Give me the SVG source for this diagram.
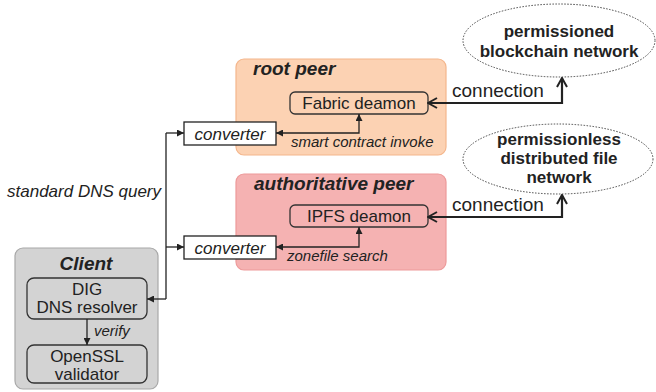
<svg xmlns="http://www.w3.org/2000/svg" width="656" height="392" viewBox="0 0 656 392">
  <defs>
    <marker id="tri" viewBox="0 0 10 10" refX="10" refY="5" markerWidth="7" markerHeight="7" markerUnits="userSpaceOnUse" orient="auto-start-reverse">
      <path d="M0,0 L10,5 L0,10 z" fill="#222"/>
    </marker>
    <marker id="chev" viewBox="0 0 12 12" refX="11" refY="6" markerWidth="12" markerHeight="12" markerUnits="userSpaceOnUse" orient="auto-start-reverse">
      <path d="M2,1 L11,6 L2,11" fill="none" stroke="#222" stroke-width="2"/>
    </marker>
  </defs>
  <style>
    text { font-family: "Liberation Sans", Arial, sans-serif; fill: #222; }
    .title { font-size: 19px; font-weight: bold; font-style: italic; }
    .lbl { font-size: 17px; }
    .it { font-style: italic; }
    .small { font-size: 15px; font-style: italic; }
    .conn { font-size: 19px; }
    .net { font-size: 17px; font-weight: bold; }
    .inner { fill: none; stroke: #333; stroke-width: 1.3; }
    .conv { fill: #fff; stroke: #222; stroke-width: 1.3; }
    .thin { fill: none; stroke: #222; stroke-width: 1.3; }
    .thick { fill: none; stroke: #222; stroke-width: 2.2; }
    .cloud { fill: #fff; stroke: #444; stroke-width: 1; stroke-dasharray: 1.5 1.5; }
  </style>

  <!-- Client -->
  <g id="client">
    <rect x="15" y="248" width="143" height="141" rx="8" fill="#d3d3d3" stroke="#a8a8a8" stroke-width="1.2"/>
    <text class="title" x="86" y="270" text-anchor="middle">Client</text>
  </g>
  <g id="dig">
    <rect class="inner" x="27" y="278" width="120" height="41" rx="7"/>
    <text class="lbl" x="87" y="295" text-anchor="middle">DIG</text>
    <text class="lbl" x="87" y="313" text-anchor="middle">DNS resolver</text>
  </g>
  <g id="openssl">
    <rect class="inner" x="27" y="345" width="120" height="38" rx="7"/>
    <text class="lbl" x="87" y="362" text-anchor="middle">OpenSSL</text>
    <text class="lbl" x="87" y="380" text-anchor="middle">validator</text>
  </g>

  <!-- root peer -->
  <g id="root-peer">
    <rect x="236" y="59" width="210" height="96" rx="8" fill="#fcd2b3" stroke="#f4b68c" stroke-width="1.2"/>
    <text class="title" x="253" y="75">root peer</text>
  </g>
  <g id="fabric">
    <rect class="inner" x="290" y="92" width="138" height="22" rx="5"/>
    <text class="lbl" x="359" y="109" text-anchor="middle">Fabric deamon</text>
  </g>
  <g id="converter-root">
    <rect class="conv" x="184" y="122" width="92" height="23"/>
    <text class="lbl it" x="230" y="140" text-anchor="middle">converter</text>
  </g>

  <!-- authoritative peer -->
  <g id="auth-peer">
    <rect x="236" y="174" width="210" height="96" rx="8" fill="#f5b2b2" stroke="#ed9a9a" stroke-width="1.2"/>
    <text class="title" x="254" y="190">authoritative peer</text>
  </g>
  <g id="ipfs">
    <rect class="inner" x="290" y="205" width="138" height="22" rx="5"/>
    <text class="lbl" x="359" y="222" text-anchor="middle">IPFS deamon</text>
  </g>
  <g id="converter-auth">
    <rect class="conv" x="184" y="236" width="92" height="23"/>
    <text class="lbl it" x="230" y="254" text-anchor="middle">converter</text>
  </g>

  <!-- networks -->
  <g id="blockchain-net">
    <ellipse class="cloud" cx="559" cy="40.5" rx="96" ry="36.5"/>
    <text class="net" x="559" y="37" text-anchor="middle">permissioned</text>
    <text class="net" x="559" y="57" text-anchor="middle">blockchain network</text>
  </g>
  <g id="file-net">
    <ellipse class="cloud" cx="558" cy="159" rx="95" ry="35"/>
    <text class="net" x="559" y="145" text-anchor="middle">permissionless</text>
    <text class="net" x="559" y="164" text-anchor="middle">distributed file</text>
    <text class="net" x="559" y="183" text-anchor="middle">network</text>
  </g>

  <!-- connectors -->
  <g id="connectors">
    <!-- DNS query bus from the resolver to both converters -->
    <path class="thin" d="M166,299 L166,133" />
    <path class="thin" d="M166,299 L147,299" marker-end="url(#tri)"/>
    <path class="thin" d="M166,133 L184,133" marker-end="url(#tri)"/>
    <path class="thin" d="M166,247 L184,247" marker-end="url(#tri)"/>
    <!-- converter to daemon calls -->
    <path class="thin" d="M276,133 L359,133 L359,114" marker-start="url(#tri)" marker-end="url(#tri)"/>
    <path class="thin" d="M276,247 L359,247 L359,227" marker-start="url(#tri)" marker-end="url(#tri)"/>
    <!-- resolver to validator -->
    <path class="thin" d="M87,319 L87,345" marker-end="url(#tri)"/>
    <!-- daemon to network connections -->
    <path class="thick" d="M428,103 L562,103 L562,78" marker-start="url(#chev)" marker-end="url(#chev)"/>
    <path class="thick" d="M428,217 L562,217 L562,195" marker-start="url(#chev)" marker-end="url(#chev)"/>

    <text class="lbl it" x="7" y="197" font-size="17.4">standard DNS query</text>
    <text class="small" x="291" y="147">smart contract invoke</text>
    <text class="small" x="287" y="261">zonefile search</text>
    <text class="small" x="94" y="336">verify</text>
    <text class="conn" x="452" y="97">connection</text>
    <text class="conn" x="452" y="211">connection</text>
  </g>
</svg>
